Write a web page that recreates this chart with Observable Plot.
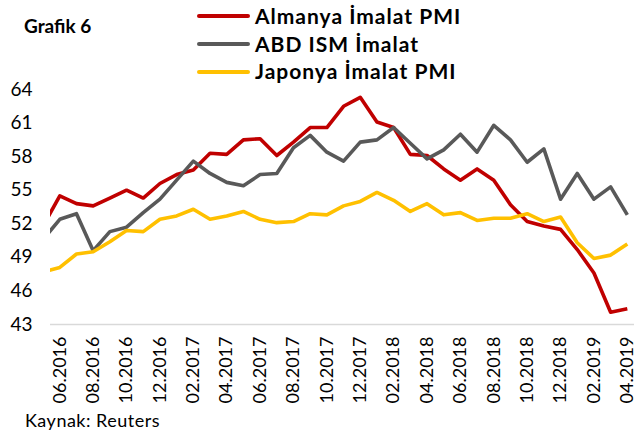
<!DOCTYPE html>
<html><head><meta charset="utf-8">
<script src="https://cdn.jsdelivr.net/npm/d3@7"></script>
<script src="https://cdn.jsdelivr.net/npm/@observablehq/plot@0.6"></script>
<style>
body{margin:0;background:#fff;}
#wrap{position:relative;width:636px;height:434px;overflow:hidden;font-family:Lato,sans-serif;color:#000;background:#fff;}
.t{position:absolute;white-space:nowrap;line-height:1;}
.title{left:24px;top:16px;font-weight:bold;font-size:19px;}
.leg{left:255px;font-weight:bold;font-size:21px;letter-spacing:1px;}
.sw{position:absolute;left:197px;width:53px;height:4px;border-radius:2px;}
.cap{left:25px;top:411px;font-size:18px;letter-spacing:0.5px;}
#chart{position:absolute;left:0;top:70px;}
</style></head>
<body>
<div id="wrap">
  <div class="t title">Grafik 6</div>
  <div class="sw" style="top:14px;background:#C00000"></div>
  <div class="t leg" style="top:5px">Almanya İmalat PMI</div>
  <div class="sw" style="top:42px;background:#595959"></div>
  <div class="t leg" style="top:33px">ABD ISM İmalat</div>
  <div class="sw" style="top:70px;background:#FFC000"></div>
  <div class="t leg" style="top:60px">Japonya İmalat PMI</div>
  <div id="chart"></div>
  <div class="t cap">Kaynak: Reuters</div>
</div>
<script>
const months = ["05.2016","06.2016","07.2016","08.2016","09.2016","10.2016","11.2016","12.2016",
  "01.2017","02.2017","03.2017","04.2017","05.2017","06.2017","07.2017","08.2017","09.2017","10.2017","11.2017","12.2017",
  "01.2018","02.2018","03.2018","04.2018","05.2018","06.2018","07.2018","08.2018","09.2018","10.2018","11.2018","12.2018",
  "01.2019","02.2019","03.2019","04.2019"];
const almanya = [51.8, 54.5, 53.8, 53.6, 54.3, 55.0, 54.3, 55.6,
  56.4, 56.8, 58.3, 58.2, 59.5, 59.6, 58.1, 59.3, 60.6, 60.6, 62.5, 63.3,
  61.1, 60.6, 58.2, 58.1, 56.9, 55.9, 56.9, 55.9, 53.7, 52.2, 51.8, 51.5,
  49.7, 47.6, 44.1, 44.4];
const abd = [50.6, 52.4, 52.9, 49.6, 51.3, 51.7, 53.0, 54.2,
  55.9, 57.6, 56.5, 55.7, 55.4, 56.4, 56.5, 58.8, 59.9, 58.4, 57.6, 59.3,
  59.5, 60.6, 59.2, 57.8, 58.6, 60.0, 58.4, 60.8, 59.5, 57.5, 58.7, 54.2,
  56.5, 54.2, 55.3, 52.8];
const japonya = [47.7, 48.1, 49.3, 49.5, 50.4, 51.4, 51.3, 52.4,
  52.7, 53.3, 52.4, 52.7, 53.1, 52.4, 52.1, 52.2, 52.9, 52.8, 53.6, 54.0,
  54.8, 54.1, 53.1, 53.8, 52.8, 53.0, 52.3, 52.5, 52.5, 52.9, 52.2, 52.6,
  50.3, 48.9, 49.2, 50.2];
const seriesNames = ["Almanya İmalat PMI", "ABD ISM İmalat", "Japonya İmalat PMI"];
const seriesColors = ["#C00000", "#595959", "#FFC000"];
const yTicks = [43, 46, 49, 52, 55, 58, 61, 64];
const xTickLabels = ["06.2016","08.2016","10.2016","12.2016","02.2017","04.2017","06.2017","08.2017",
  "10.2017","12.2017","02.2018","04.2018","06.2018","08.2018","10.2018","12.2018","02.2019","04.2019"];

const seriesValues = [almanya, abd, japonya];
const xTicks = xTickLabels.map(l => months.indexOf(l));

const lines = seriesValues.map((vals, s) =>
  Plot.line(vals.map((v, i) => ({i, v})), {x: "i", y: "v", stroke: seriesColors[s], strokeWidth: 3.6, strokeLinejoin: "round", strokeLinecap: "butt", clip: true})
);

const chart = Plot.plot({
  width: 636, height: 340,
  marginTop: 19, marginBottom: 86, marginLeft: 50, marginRight: 2,
  style: {fontFamily: "Lato, sans-serif", fontSize: "19px", color: "#000", background: "transparent", overflow: "visible"},
  x: {type: "linear", domain: [0.443, 35.43], axis: null},
  y: {domain: [43, 64], axis: null},
  marks: [
    Plot.ruleY([43], {stroke: "#d9d9d9", strokeWidth: 1.5}),
    Plot.axisY({ticks: yTicks, tickSize: 0, tickPadding: 18, fontSize: 19, label: null}),
    Plot.axisX({ticks: xTicks, tickFormat: i => months[i], tickRotate: -90, tickSize: 0, tickPadding: 12, fontSize: 18, label: null}),
    ...lines
  ]
});
document.getElementById("chart").appendChild(chart);
</script>
</body></html>
